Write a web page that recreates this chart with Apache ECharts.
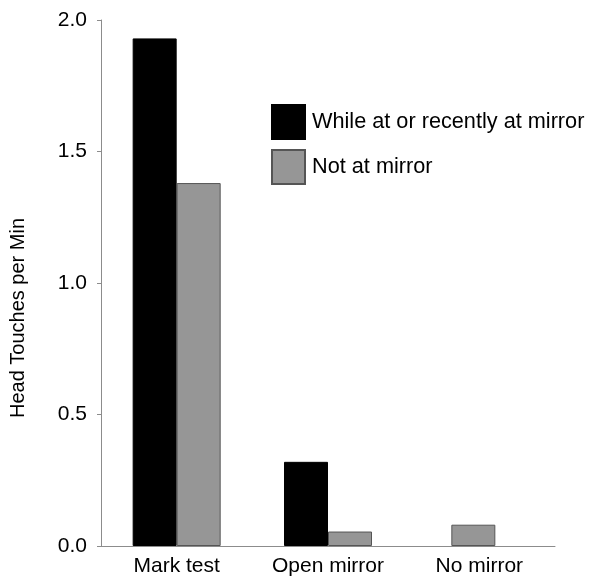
<!DOCTYPE html>
<html>
<head>
<meta charset="utf-8">
<script src="https://cdn.jsdelivr.net/npm/echarts@6/dist/echarts.min.js"></script>
<style>html,body{margin:0;padding:0;background:#fff}#c{width:589px;height:580px}</style>
</head>
<body>
<div id="c"></div>
<script>
var categories = ['Mark test', 'Open mirror', 'No mirror'];
var seriesNames = ['While at or recently at mirror', 'Not at mirror'];
var atMirror = [1.93, 0.32, 0];
var notAtMirror = [1.38, 0.055, 0.081];
var yTicks = [0, 0.5, 1.0, 1.5, 2.0];

// categories where only the "not at mirror" bar exists are drawn on their own
var single = atMirror.map(function (v) { return v === 0; });
var pairedGray = notAtMirror.map(function (v, i) { return single[i] ? '-' : v; });
var singleGray = notAtMirror.map(function (v, i) { return single[i] ? v : '-'; });
var blackData = atMirror.map(function (v, i) { return single[i] ? '-' : v; });
var emptyData = categories.map(function () { return '-'; });

var FONT = 'Liberation Sans, Arial, sans-serif';
var chart = echarts.init(document.getElementById('c'));
chart.setOption({
  animation: false,
  backgroundColor: '#ffffff',
  textStyle: { fontFamily: FONT },
  grid: { left: 100, right: 34, top: 20, bottom: 34 },
  legend: {
    orient: 'vertical',
    left: 271, top: 104,
    padding: 0,
    itemWidth: 33, itemHeight: 34, itemGap: 9,
    icon: 'rect',
    data: seriesNames,
    textStyle: { fontFamily: FONT, fontSize: 21.7, color: '#000', padding: [0, 0, 0, 2] }
  },
  xAxis: [{
    type: 'category',
    data: categories,
    axisLine: { lineStyle: { color: '#8c8c8c', width: 1 } },
    axisTick: { show: false },
    axisLabel: { color: '#000', fontSize: 21, fontFamily: FONT, margin: 10 }
  }, {
    type: 'category',
    data: categories,
    show: false
  }],
  yAxis: {
    type: 'value',
    min: 0, max: 2, interval: 0.5,
    name: 'Head Touches per Min',
    nameLocation: 'middle',
    nameRotate: 90,
    nameGap: 73,
    nameTextStyle: { color: '#000', fontSize: 20, fontFamily: FONT, padding: [0, 70, 0, 0] },
    axisLine: { show: true, lineStyle: { color: '#8c8c8c', width: 1 } },
    axisTick: { show: true, length: 4, lineStyle: { color: '#8c8c8c' } },
    splitLine: { show: false },
    axisLabel: {
      color: '#000', fontSize: 21, fontFamily: FONT, margin: 14,
      formatter: function (v) { return v.toFixed(1); }
    }
  },
  series: [{
    name: seriesNames[0],
    type: 'bar',
    xAxisIndex: 0,
    data: blackData,
    barWidth: 44,
    barGap: '0%',
    itemStyle: { color: '#000000', borderColor: '#000', borderWidth: 1 }
  }, {
    name: seriesNames[1],
    type: 'bar',
    xAxisIndex: 0,
    data: pairedGray,
    barWidth: 44,
    barGap: '0%',
    itemStyle: { color: '#969696', borderColor: '#555555', borderWidth: 1 }
  }, {
    name: seriesNames[1],
    type: 'bar',
    xAxisIndex: 1,
    data: singleGray,
    barWidth: 44,
    barGap: '0%',
    itemStyle: { color: '#969696', borderColor: '#555555', borderWidth: 1 }
  }, {
    name: 'spacer',
    type: 'bar',
    xAxisIndex: 1,
    data: emptyData,
    barWidth: 12,
    barGap: '0%',
    silent: true,
    itemStyle: { color: 'rgba(0,0,0,0)' }
  }]
});
</script>
</body>
</html>
